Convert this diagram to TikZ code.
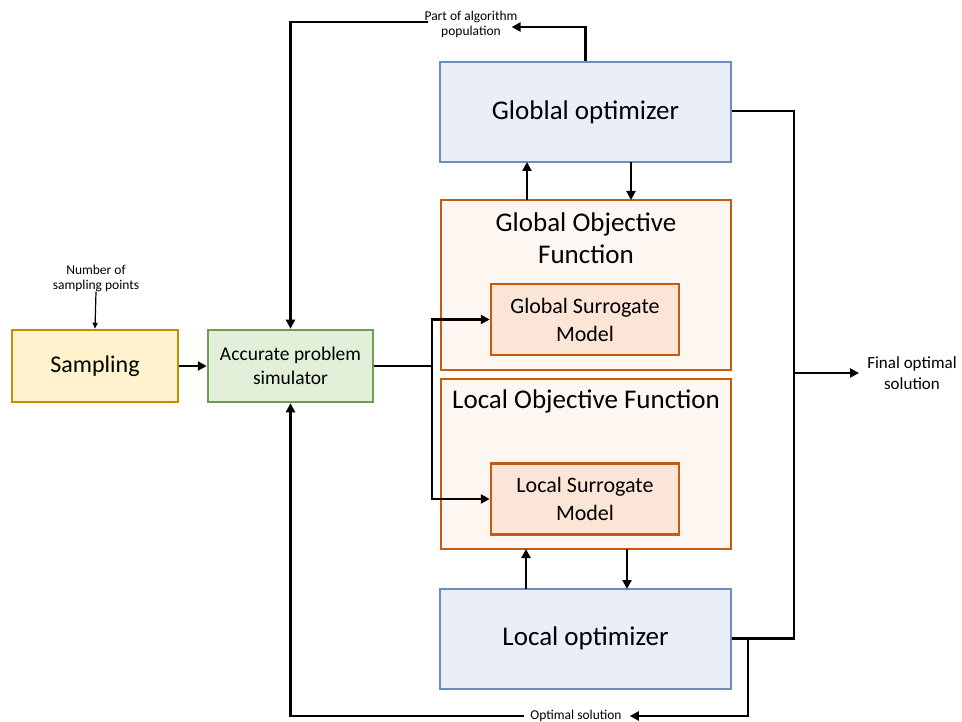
\documentclass[tikz,border=0pt]{standalone}
\usepackage{fontspec}
\setmainfont{Carlito}
\usetikzlibrary{arrows.meta}
\definecolor{sampFill}{HTML}{FFF2CC}
\definecolor{sampLine}{HTML}{BF9000}
\definecolor{simFill}{HTML}{E2F0D9}
\definecolor{simLine}{HTML}{6E9E50}
\definecolor{optFill}{HTML}{E9EEF8}
\definecolor{optLine}{HTML}{6C8EBF}
\definecolor{objFill}{HTML}{FEF6F0}
\definecolor{objLine}{HTML}{C55A11}
\definecolor{surFill}{HTML}{FBE5D6}
\tikzset{
  box/.style={draw, line width=2.5pt, inner sep=0pt, align=center},
  sampbox/.style={box, fill=sampFill, draw=sampLine, minimum width=166pt, minimum height=72pt, font=\fontsize{24}{28}\selectfont},
  simbox/.style={box, fill=simFill, draw=simLine, minimum width=165pt, minimum height=72pt, font=\fontsize{19.5}{24}\selectfont},
  optbox/.style={box, fill=optFill, draw=optLine, line width=2pt, minimum width=291pt, minimum height=100pt, font=\fontsize{27}{30}\selectfont},
  objbox/.style={box, fill=objFill, draw=objLine, line width=2pt, minimum width=290pt, minimum height=170pt},
  surbox/.style={box, fill=surFill, draw=objLine, minimum width=188pt, minimum height=71pt, font=\fontsize{22}{28}\selectfont},
  title/.style={align=center, inner sep=0pt, font=\fontsize{27}{32}\selectfont},
  small/.style={align=center, inner sep=0pt, font=\fontsize{13.5}{15}\selectfont},
  mid/.style={align=center, inner sep=0pt, font=\fontsize{17}{21}\selectfont},
  flow/.style={line width=2.5pt, -{Triangle[length=9pt,width=9pt]}},
  wire/.style={line width=2.5pt},
  thin/.style={line width=1.2pt, -{Triangle[length=6pt,width=5pt]}}
}
\begin{document}
\begin{tikzpicture}[x=1pt,y=-1pt]
\useasboundingbox (0,0) rectangle (962,722);

% main blocks
\node[sampbox] (samp) at (95,366) {Sampling};
\node[simbox] (sim) at (290.5,366) {Accurate problem\\simulator};
\node[optbox] (gopt) at (585.5,112) {Globlal optimizer};
\node[objbox] (gobj) at (586,285) {};
\node[title] (gobjt) at (586,238) {Global Objective\\Function};
\node[surbox] (gsur) at (585,319.5) {Global Surrogate\\Model};
\node[objbox] (lobj) at (586,464) {};
\node[title] (lobjt) at (586,401) {Local Objective Function};
\node[surbox] (lsur) at (585,499) {Local Surrogate\\Model};
\node[optbox] (lopt) at (585.5,638.5) {Local optimizer};

% labels
\node[small] (nsp) at (96,278) {Number of\\sampling points};
\node[small] (pap) at (471,24) {Part of algorithm\\population};
\node[mid] (fos) at (912,373) {Final optimal\\solution};
\node[small] (osl) at (576,716) {Optimal solution};

% junction points
\coordinate (split) at (432,366);
\coordinate (rbus) at (794,373);
\coordinate (ltap) at (748,638.5);

% sampling input and flow into the simulator
\draw[thin] (nsp.south) -- (samp.north);
\draw[flow] (samp.east) -- (sim.west);

% simulator feeds both surrogate models
\draw[wire] (sim.east) -- (split);
\draw[flow] (split) |- (gsur.west);
\draw[flow] (split) |- (lsur.west);

% global optimizer feedback to the simulator
\draw[flow] (gopt.north) |- ([xshift=-6pt]pap.east |- 0,27);
\draw[flow] ([xshift=4pt]pap.west |- 0,22) -| (sim.north);

% optimizer <-> objective function exchanges
\draw[flow] (527,200) -- (527,162);
\draw[flow] (631,162) -- (631,200);
\draw[flow] (526,589) -- (526,549);
\draw[flow] (627,549) -- (627,589);

% final optimal solution
\draw[wire] (gopt.east |- 0,111) -| (rbus);
\draw[wire] (lopt.east) -| (rbus);
\draw[flow] (rbus) -- ([xshift=-8pt]fos.west |- rbus);

% local optimizer result back to the simulator
\draw[flow] (ltap) |- ([xshift=8pt]osl.east);
\draw[flow] ([xshift=-6pt]osl.west) -| (sim.south);
\end{tikzpicture}
\end{document}
